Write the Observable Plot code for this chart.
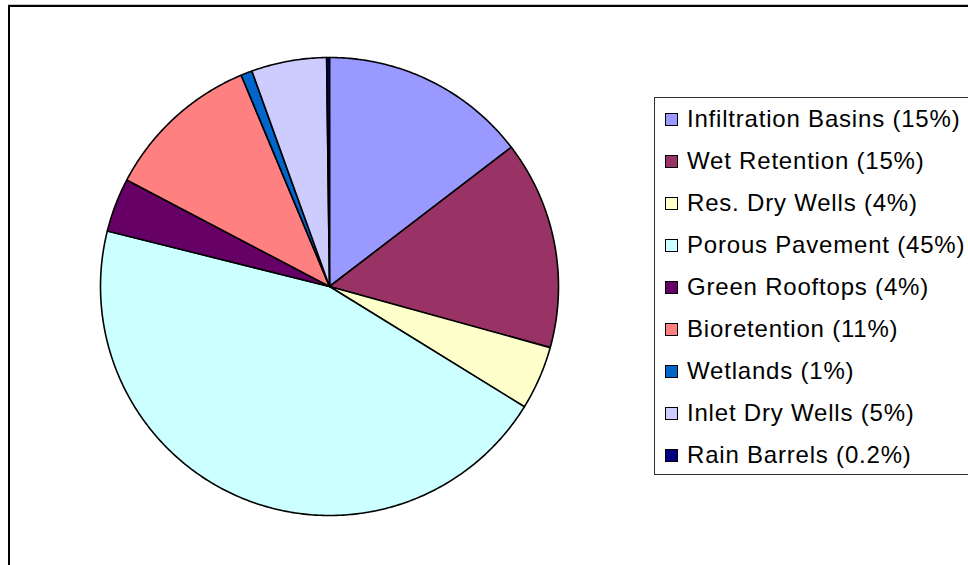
<!DOCTYPE html>
<html>
<head>
<meta charset="utf-8">
<script src="https://cdn.jsdelivr.net/npm/d3@7"></script>
<script src="https://cdn.jsdelivr.net/npm/@observablehq/plot@0.6"></script>
<style>
  html, body { margin: 0; padding: 0; background: #fff; }
  #wrap { position: relative; width: 968px; height: 565px; overflow: hidden; font-family: "Liberation Sans", Arial, sans-serif; }
  #frame { position: absolute; left: 8px; top: 5px; width: 1000px; height: 600px; border: 2px solid #000; box-shadow: 0 -1px 0 #c8c8c8; box-sizing: border-box; }
  #chart { position: absolute; left: 0; top: 0; }
  #legend { position: absolute; left: 654px; top: 97px; width: 340px; height: 378px; border: 1px solid #333; box-sizing: border-box; background: #fff; }
  .row { position: absolute; left: 10px; height: 42px; display: flex; align-items: center; font-size: 24px; letter-spacing: 0.8px; color: #000; white-space: nowrap; }
  .sw { width: 11px; height: 11px; border: 1px solid #000; margin-right: 9px; margin-top: 1px; flex: none; }
</style>
</head>
<body>
<div id="wrap">
  <div id="frame"></div>
  <div id="chart"></div>
  <div id="legend"></div>
</div>
<script>
const categories = ["Infiltration Basins", "Wet Retention", "Res. Dry Wells", "Porous Pavement", "Green Rooftops", "Bioretention", "Wetlands", "Inlet Dry Wells", "Rain Barrels"];
const values = [14.6, 14.7, 4.5, 45.1, 3.8, 11.0, 0.8, 5.3, 0.2];
const legendLabels = ["Infiltration Basins (15%)", "Wet Retention (15%)", "Res. Dry Wells (4%)", "Porous Pavement (45%)", "Green Rooftops (4%)", "Bioretention (11%)", "Wetlands (1%)", "Inlet Dry Wells (5%)", "Rain Barrels (0.2%)"];
const colors = ["#9999FF", "#993366", "#FFFFCC", "#CCFFFF", "#660066", "#FF8080", "#0066CC", "#CCCCFF", "#000080"];

// Build slice outlines from pie angles (clockwise from 12 o'clock)
const pie = d3.pie().sort(null).value(d => d.value)(categories.map((c, i) => ({category: c, value: values[i]})));
const pts = [];
for (const s of pie) {
  const cat = s.data.category;
  pts.push({category: cat, x: 0, y: 0});
  const n = Math.max(2, Math.ceil((s.endAngle - s.startAngle) / 0.01));
  for (let k = 0; k <= n; k++) {
    const a = s.startAngle + (s.endAngle - s.startAngle) * k / n;
    pts.push({category: cat, x: Math.sin(a), y: Math.cos(a)});
  }
  pts.push({category: cat, x: 0, y: 0});
}

const chart = Plot.plot({
  width: 968,
  height: 565,
  marginLeft: 100,
  marginRight: 410,
  marginTop: 57,
  marginBottom: 50,
  x: {domain: [-1, 1], axis: null},
  y: {domain: [-1, 1], axis: null},
  color: {domain: categories, range: colors},
  style: {background: "transparent"},
  marks: [
    Plot.line(pts, {x: "x", y: "y", z: "category", fill: "category", stroke: "#000", strokeWidth: 1.6, strokeLinejoin: "round", curve: "linear"})
  ]
});
document.getElementById("chart").appendChild(chart);

const legend = document.getElementById("legend");
legendLabels.forEach((lab, i) => {
  const row = document.createElement("div");
  row.className = "row";
  row.style.top = (0 + i * 42) + "px";
  const sw = document.createElement("div");
  sw.className = "sw";
  sw.style.background = colors[i];
  const t = document.createElement("span");
  t.textContent = lab;
  row.appendChild(sw);
  row.appendChild(t);
  legend.appendChild(row);
});
</script>
</body>
</html>
